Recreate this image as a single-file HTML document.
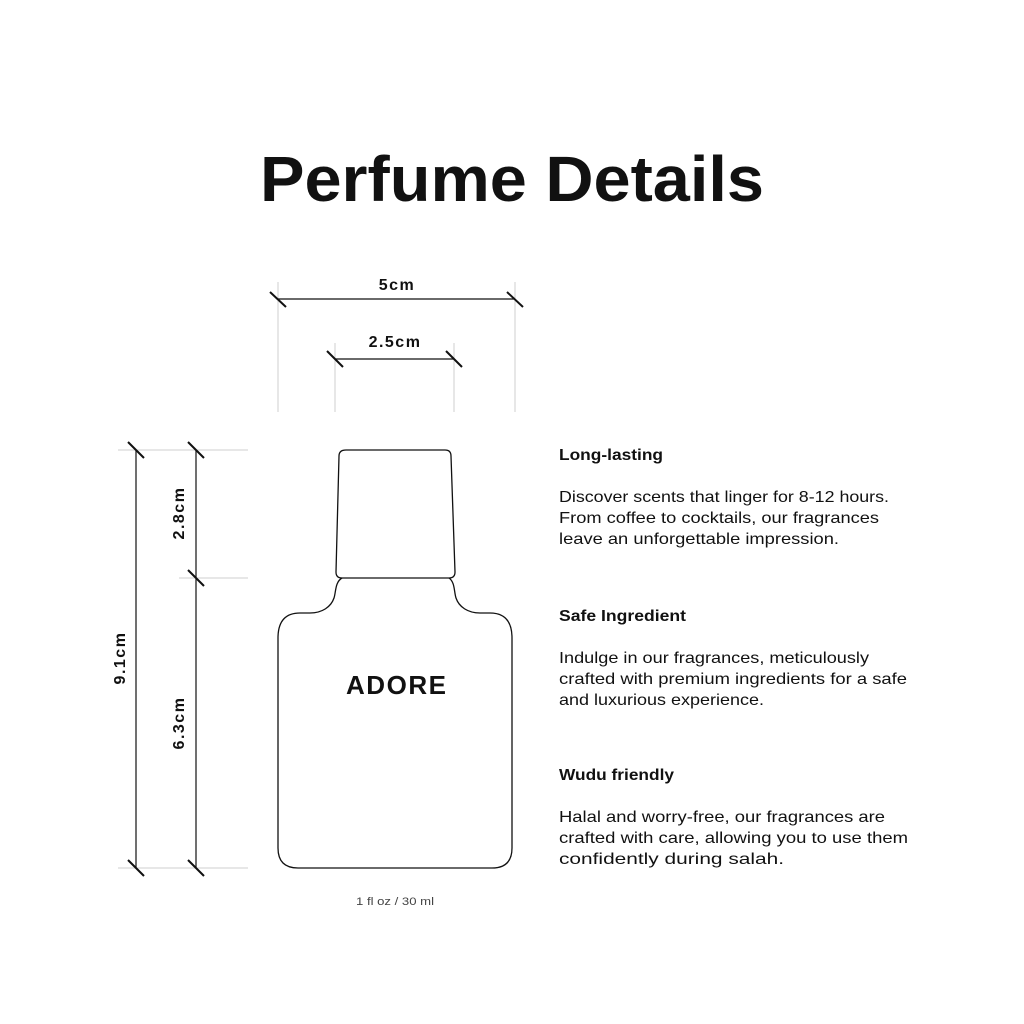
<!DOCTYPE html>
<html><head><meta charset="utf-8"><style>
html,body{margin:0;padding:0;background:#fff;}
svg{display:block;}
text{font-family:"Liberation Sans",sans-serif;fill:#111;}
</style></head><body>
<svg width="1024" height="1024" viewBox="0 0 1024 1024" xmlns="http://www.w3.org/2000/svg">
<text x="260" y="201" font-size="64" font-weight="bold" textLength="504" lengthAdjust="spacingAndGlyphs">Perfume Details</text>

<g stroke="#cfcfcf" stroke-width="1">
<line x1="278" y1="282" x2="278" y2="412"/>
<line x1="515" y1="282" x2="515" y2="412"/>
<line x1="335" y1="343" x2="335" y2="412"/>
<line x1="454" y1="343" x2="454" y2="412"/>
<line x1="118" y1="450" x2="248" y2="450"/>
<line x1="179" y1="578" x2="248" y2="578"/>
<line x1="118" y1="868" x2="248" y2="868"/>
</g>
<g stroke="#111" stroke-width="1.2">
<line x1="278" y1="299" x2="515" y2="299"/>
<line x1="335" y1="359" x2="454" y2="359"/>
<line x1="136" y1="450" x2="136" y2="868"/>
<line x1="196" y1="450" x2="196" y2="868"/>
</g>
<g stroke="#111" stroke-width="2">
<line x1="270" y1="292" x2="286" y2="307"/>
<line x1="507" y1="292" x2="523" y2="307"/>
<line x1="327" y1="351" x2="343" y2="367"/>
<line x1="446" y1="351" x2="462" y2="367"/>
<line x1="128" y1="442" x2="144" y2="458"/>
<line x1="188" y1="442" x2="204" y2="458"/>
<line x1="188" y1="570" x2="204" y2="586"/>
<line x1="128" y1="860" x2="144" y2="876"/>
<line x1="188" y1="860" x2="204" y2="876"/>
</g>
<g font-size="16" text-anchor="middle" letter-spacing="1.5" font-weight="bold">
<text x="397" y="290">5cm</text>
<text x="395" y="347">2.5cm</text>
<text transform="translate(184,513) rotate(-90)">2.8cm</text>
<text transform="translate(125,658) rotate(-90)">9.1cm</text>
<text transform="translate(184,723) rotate(-90)">6.3cm</text>
</g>

<g fill="none" stroke="#111" stroke-width="1.3">
<path d="M346,450 L445,450 Q451,450 451,456 L455,572 Q455,578 449,578 L342,578 Q336,578 336,572 L339,456 Q339,450 346,450 Z"/>
<path d="M342,578 C335,582 336,592 334,598 C331,607 322,613 310,613 L300,613 Q278,613 278,638 L278,848 Q278,868 298,868 L492,868 Q512,868 512,848 L512,638 Q512,613 490,613 L480,613 C468,613 459,607 456,598 C454,592 455,582 449,578"/>
</g>
<text x="346" y="694" font-size="26" font-weight="bold" textLength="100" lengthAdjust="spacing">ADORE</text>
<text x="356" y="905" font-size="11" style="fill:#444" textLength="78" lengthAdjust="spacingAndGlyphs">1 fl oz / 30 ml</text>

<g font-size="16">
<text x="559" y="460" font-weight="bold" textLength="104" lengthAdjust="spacingAndGlyphs">Long-lasting</text>
<text x="559" y="502" textLength="330" lengthAdjust="spacingAndGlyphs">Discover scents that linger for 8-12 hours.</text>
<text x="559" y="523" textLength="320" lengthAdjust="spacingAndGlyphs">From coffee to cocktails, our fragrances</text>
<text x="559" y="544" textLength="280" lengthAdjust="spacingAndGlyphs">leave an unforgettable impression.</text>

<text x="559" y="621" font-weight="bold" textLength="127" lengthAdjust="spacingAndGlyphs">Safe Ingredient</text>
<text x="559" y="663" textLength="310" lengthAdjust="spacingAndGlyphs">Indulge in our fragrances, meticulously</text>
<text x="559" y="684" textLength="348" lengthAdjust="spacingAndGlyphs">crafted with premium ingredients for a safe</text>
<text x="559" y="705" textLength="205" lengthAdjust="spacingAndGlyphs">and luxurious experience.</text>

<text x="559" y="780" font-weight="bold" textLength="115" lengthAdjust="spacingAndGlyphs">Wudu friendly</text>
<text x="559" y="822" textLength="326" lengthAdjust="spacingAndGlyphs">Halal and worry-free, our fragrances are</text>
<text x="559" y="843" textLength="349" lengthAdjust="spacingAndGlyphs">crafted with care, allowing you to use them</text>
<text x="559" y="864" textLength="225" lengthAdjust="spacingAndGlyphs">confidently during salah.</text>
</g>
</svg>
</body></html>
